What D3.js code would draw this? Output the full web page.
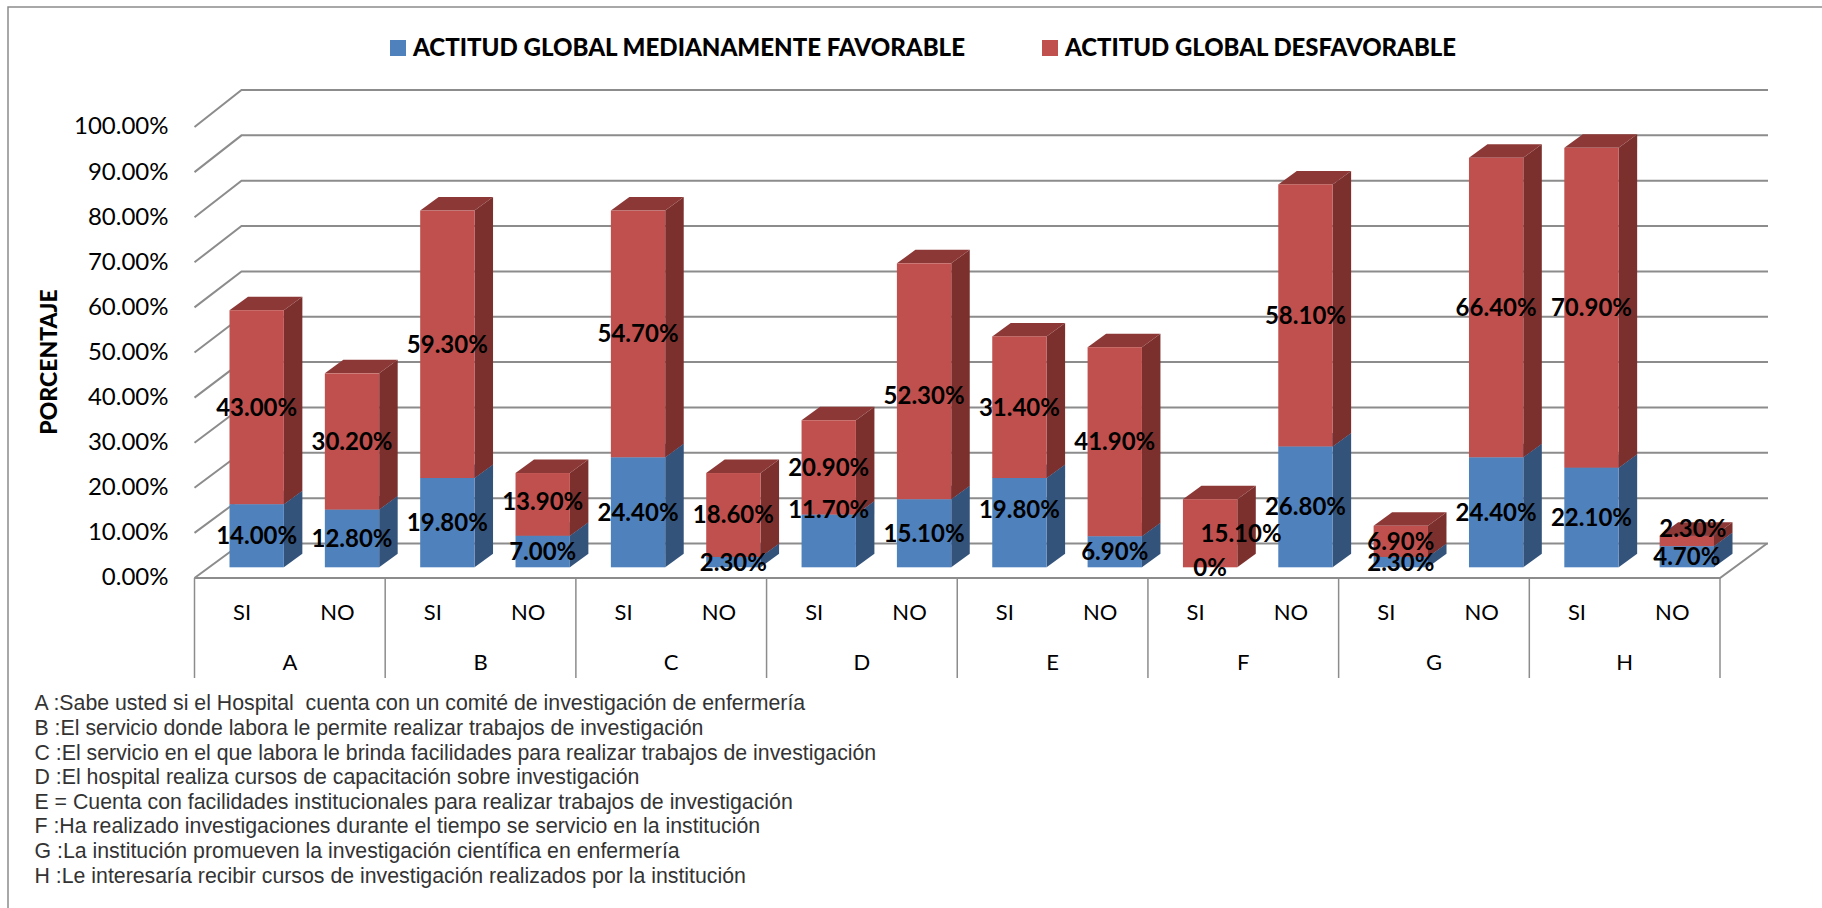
<!DOCTYPE html>
<html>
<head>
<meta charset="utf-8">
<script src="https://cdn.jsdelivr.net/npm/d3@7"></script>
<style>
  html, body { margin: 0; padding: 0; background: #fff; overflow: hidden; }
  svg { display: block; }
</style>
</head>
<body>
<div id="chart"></div>
<script>
const groups = ['A', 'B', 'C', 'D', 'E', 'F', 'G', 'H'];
const answers = ['SI', 'NO'];
const favorable = [14.0, 12.8, 19.8, 7.0, 24.4, 2.3, 11.7, 15.1, 19.8, 6.9, 0, 26.8, 2.3, 24.4, 22.1, 4.7];
const unfavorable = [43.0, 30.2, 59.3, 13.9, 54.7, 18.6, 20.9, 52.3, 31.4, 41.9, 15.1, 58.1, 6.9, 66.4, 70.9, 2.3];
const favorableLabels = ['14.00%', '12.80%', '19.80%', '7.00%', '24.40%', '2.30%', '11.70%', '15.10%', '19.80%', '6.90%', '0%', '26.80%', '2.30%', '24.40%', '22.10%', '4.70%'];
const unfavorableLabels = ['43.00%', '30.20%', '59.30%', '13.90%', '54.70%', '18.60%', '20.90%', '52.30%', '31.40%', '41.90%', '15.10%', '58.10%', '6.90%', '66.40%', '70.90%', '2.30%'];
const yTicks = [0, 10, 20, 30, 40, 50, 60, 70, 80, 90, 100];
const seriesNames = ['ACTITUD GLOBAL MEDIANAMENTE FAVORABLE', 'ACTITUD GLOBAL DESFAVORABLE'];
const notes = [
  'A :Sabe usted si el Hospital  cuenta con un comité de investigación de enfermería',
  'B :El servicio donde labora le permite realizar trabajos de investigación',
  'C :El servicio en el que labora le brinda facilidades para realizar trabajos de investigación',
  'D :El hospital realiza cursos de capacitación sobre investigación',
  'E = Cuenta con facilidades institucionales para realizar trabajos de investigación',
  'F :Ha realizado investigaciones durante el tiempo se servicio en la institución',
  'G :La institución promueven la investigación científica en enfermería',
  'H :Le interesaría recibir cursos de investigación realizados por la institución'
];

const width = 1822, height = 908;
const font = 'Lato, sans-serif';
const plotLeft = 194.5, plotRight = 1720;
const depth = { wallX: 47, barX: 18.5, barY: 13.5, barLift: 10.7, barShift: 14.5 };
const gridColor = '#8c8c8c';
const blue = { front: '#4f81bd', side: '#33537b', top: '#3c6291' };
const red = { front: '#c0504d', side: '#7b302e', top: '#8c3836' };

// labels that were dragged by hand in the original: [bar, series, dx, dy]
const labelNudges = [[3, 1, 0, -3], [6, 0, 0, -31], [7, 1, 0, 14], [8, 0, 0, -13], [10, 1, 31, 0], [15, 1, 6, -12]];

const svg = d3.select('#chart').append('svg')
  .attr('width', width)
  .attr('height', height)
  .style('font-family', font);

const bars = d3.range(favorable.length);

const xCat = d3.scaleBand().domain(bars).range([plotLeft, plotRight]);
const x = d3.scaleBand().domain(bars)
  .range([plotLeft + depth.barShift, plotRight + depth.barShift])
  .paddingInner(0.43).paddingOuter(0.215);
const xGroup = d3.scaleBand().domain(groups).range([plotLeft, plotRight]);
const y = d3.scaleLinear().domain([0, 100]).range([578, 127]);
const yBack = d3.scaleLinear().domain([0, 100]).range([543.5, 90]);

// frame, only top and left survive in the original crop
svg.append('path')
  .attr('d', `M8,${height}V7H${width}`)
  .attr('fill', 'none')
  .attr('stroke', gridColor)
  .attr('stroke-width', 1.5);

// legend
const legendX = [390, 1042];
const legendLength = [552, 391];
const legend = svg.append('g').selectAll('g').data(seriesNames).join('g')
  .attr('transform', (d, i) => `translate(${legendX[i]},40)`);
legend.append('rect')
  .attr('width', 16).attr('height', 16)
  .attr('fill', (d, i) => [blue.front, red.front][i]);
legend.append('text')
  .attr('x', 23).attr('y', 16)
  .attr('font-size', 25).attr('font-weight', 900)
  .attr('textLength', (d, i) => legendLength[i])
  .attr('lengthAdjust', 'spacingAndGlyphs')
  .attr('fill', '#000')
  .text(d => d);

// walls grid
const grid = svg.append('g').attr('fill', 'none').attr('stroke', gridColor).attr('stroke-width', 2);
grid.selectAll('path').data(yTicks).join('path')
  .attr('d', d => `M${plotLeft},${y(d)}L${plotLeft + depth.wallX},${yBack(d)}H${plotRight + depth.wallX + 1}`);
grid.append('path')
  .attr('d', `M${plotLeft},${y(0)}H${plotRight}L${plotRight + depth.wallX},${yBack(0)}`);

// axis labels
svg.append('g').selectAll('text').data(yTicks).join('text')
  .attr('x', 168.5)
  .attr('y', d => y(d) - 1)
  .attr('dy', '0.35em')
  .attr('text-anchor', 'end')
  .attr('font-size', 24)
  .attr('fill', '#000')
  .text(d => d.toFixed(2) + '%');

svg.append('text')
  .attr('transform', 'translate(49,362) rotate(-90)')
  .attr('dy', '0.35em')
  .attr('text-anchor', 'middle')
  .attr('font-size', 23)
  .attr('font-weight', 900)
  .attr('fill', '#000')
  .text('PORCENTAJE');

// group dividers and category labels
const dividers = svg.append('g').attr('stroke', gridColor).attr('stroke-width', 1.5);
dividers.selectAll('line').data(d3.range(groups.length + 1)).join('line')
  .attr('x1', d => plotLeft + d * xGroup.bandwidth())
  .attr('x2', d => plotLeft + d * xGroup.bandwidth())
  .attr('y1', y(0))
  .attr('y2', 678);

svg.append('g').selectAll('text').data(bars).join('text')
  .attr('x', d => xCat(d) + xCat.bandwidth() / 2)
  .attr('y', 612)
  .attr('dy', '0.35em')
  .attr('text-anchor', 'middle')
  .attr('font-size', 22)
  .attr('fill', '#000')
  .text(d => answers[d % 2]);

svg.append('g').selectAll('text').data(groups).join('text')
  .attr('x', d => xGroup(d) + xGroup.bandwidth() / 2)
  .attr('y', 662)
  .attr('dy', '0.35em')
  .attr('text-anchor', 'middle')
  .attr('font-size', 22)
  .attr('fill', '#000')
  .text(d => d);

// bars
const barY = v => y(v) - depth.barLift;

function drawBox(g, i, from, to, c) {
  const x0 = x(i), x1 = x0 + x.bandwidth();
  const y0 = barY(from), y1 = barY(to);
  g.append('path').attr('fill', c.side)
    .attr('d', `M${x1},${y0}L${x1 + depth.barX},${y0 - depth.barY}V${y1 - depth.barY}L${x1},${y1}Z`);
  g.append('path').attr('fill', c.top)
    .attr('d', `M${x0},${y1}L${x0 + depth.barX},${y1 - depth.barY}H${x1 + depth.barX}L${x1},${y1}Z`);
  g.append('rect').attr('fill', c.front)
    .attr('x', x0).attr('y', y1).attr('width', x.bandwidth()).attr('height', y0 - y1);
}

const barGroups = svg.append('g').selectAll('g').data(bars).join('g');
barGroups.each(function (i) {
  const g = d3.select(this);
  if (favorable[i] > 0) drawBox(g, i, 0, favorable[i], blue);
  drawBox(g, i, favorable[i], favorable[i] + unfavorable[i], red);
});

// data labels
const labelRows = bars.flatMap(i => [
  { bar: i, series: 0, mid: favorable[i] / 2, text: favorableLabels[i] },
  { bar: i, series: 1, mid: favorable[i] + unfavorable[i] / 2, text: unfavorableLabels[i] }
]);
const nudge = d => labelNudges.find(n => n[0] === d.bar && n[1] === d.series) || [0, 0, 0, 0];

svg.append('g').selectAll('text').data(labelRows).join('text')
  .attr('x', d => x(d.bar) + x.bandwidth() / 2 + nudge(d)[2])
  .attr('y', d => barY(d.mid) + nudge(d)[3])
  .attr('dy', '0.35em')
  .attr('text-anchor', 'middle')
  .attr('font-size', 24)
  .attr('font-weight', 700)
  .attr('fill', '#000')
  .text(d => d.text);

// footnotes
svg.append('g').selectAll('text').data(notes).join('text')
  .attr('x', 34.5)
  .attr('y', (d, i) => 703 + i * 24.6)
  .attr('dy', '0.35em')
  .attr('font-family', '"Liberation Sans", Arial, sans-serif')
  .attr('font-size', 21.3)
  .attr('xml:space', 'preserve')
  .style('white-space', 'pre')
  .attr('fill', '#333')
  .text(d => d);
</script>
</body>
</html>
